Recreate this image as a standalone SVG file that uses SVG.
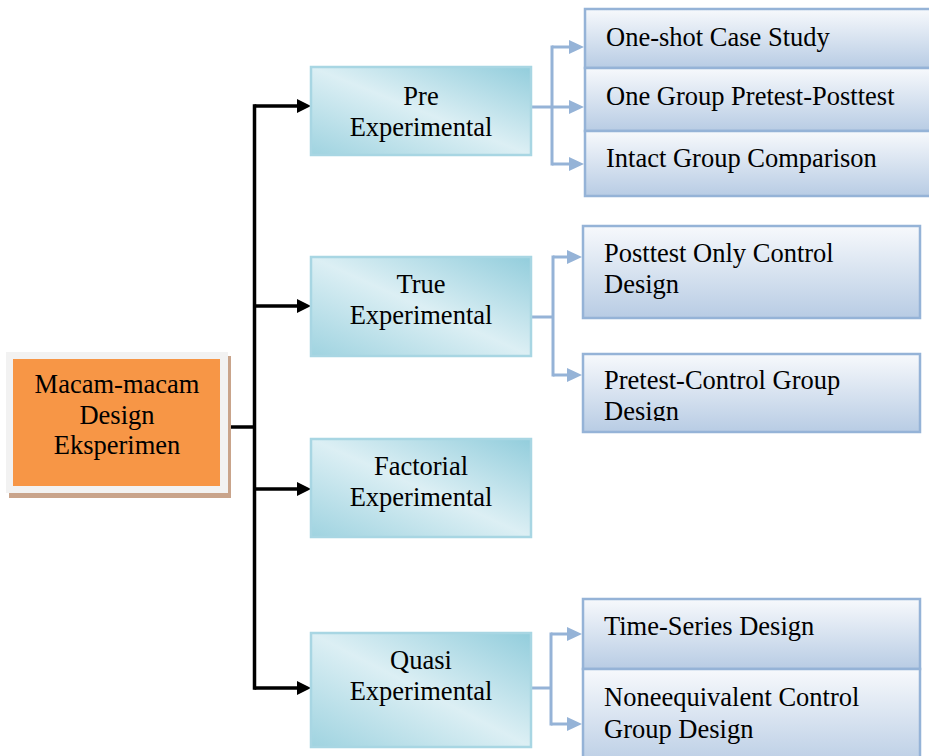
<svg xmlns="http://www.w3.org/2000/svg" width="929" height="756" viewBox="0 0 929 756">
<style>
  text { font-family: "Liberation Serif", "Times New Roman", serif; font-size: 26.5px; fill: #000; }
  .mid text { text-anchor: middle; }
  .midbox { fill: url(#tealGrad); stroke: #A8D6E3; stroke-width: 2.5; }
  .leaf { fill: url(#blueGrad); stroke: #95B3D7; stroke-width: 2.5; }
  .blk { fill: none; stroke: #000; stroke-width: 3.5; }
  .blu { fill: none; stroke: #95B3D7; stroke-width: 3; }
</style>
<defs>
  <linearGradient id="tealGrad" x1="1" y1="0" x2="0" y2="1">
    <stop offset="0" stop-color="#92CDDC"/>
    <stop offset="0.5" stop-color="#DCEFF4"/>
    <stop offset="1" stop-color="#9FD3E0"/>
  </linearGradient>
  <linearGradient id="blueGrad" x1="0" y1="0" x2="0" y2="1">
    <stop offset="0" stop-color="#F7F9FC"/>
    <stop offset="1" stop-color="#B8CCE4"/>
  </linearGradient>
  <marker id="arrBlack" markerUnits="userSpaceOnUse" markerWidth="14" markerHeight="14" refX="0" refY="7" orient="auto">
    <path d="M0,0 L14,7 L0,14 z" fill="#000"/>
  </marker>
  <marker id="arrBlue" markerUnits="userSpaceOnUse" markerWidth="15" markerHeight="14" refX="0" refY="7" orient="auto">
    <path d="M0,0 L15,7 L0,14 z" fill="#95B3D7"/>
  </marker>
  <clipPath id="clipPCG">
    <rect x="583" y="354" width="337" height="67"/>
  </clipPath>
</defs>

<g id="connectors">
  <path class="blk" d="M228,427 H254.5"/>
  <path class="blk" d="M254.5,106 V688" stroke-linecap="square"/>
  <path class="blk" d="M254.5,106 H297" marker-end="url(#arrBlack)"/>
  <path class="blk" d="M254.5,306 H297" marker-end="url(#arrBlack)"/>
  <path class="blk" d="M254.5,489 H297" marker-end="url(#arrBlack)"/>
  <path class="blk" d="M254.5,688 H297" marker-end="url(#arrBlack)"/>

  <path class="blu" d="M531,107 H569" marker-end="url(#arrBlue)"/>
  <path class="blu" d="M552,47 V164" stroke-linecap="square"/>
  <path class="blu" d="M552,47 H569" marker-end="url(#arrBlue)"/>
  <path class="blu" d="M552,164 H569" marker-end="url(#arrBlue)"/>

  <path class="blu" d="M531,317 H553"/>
  <path class="blu" d="M553,257 V375" stroke-linecap="square"/>
  <path class="blu" d="M553,257 H567" marker-end="url(#arrBlue)"/>
  <path class="blu" d="M553,375 H567" marker-end="url(#arrBlue)"/>

  <path class="blu" d="M532,688 H551"/>
  <path class="blu" d="M551,634 V724" stroke-linecap="square"/>
  <path class="blu" d="M551,634 H567" marker-end="url(#arrBlue)"/>
  <path class="blu" d="M551,724 H567" marker-end="url(#arrBlue)"/>
</g>

<g id="root" class="mid">
  <rect x="9" y="356" width="222" height="142" fill="#C9A48B"/>
  <rect x="6" y="352" width="222" height="141" fill="#F2F2F2"/>
  <rect x="13" y="359" width="207" height="127" fill="#F79646"/>
  <text x="117" y="393">Macam-macam</text>
  <text x="117" y="424">Design</text>
  <text x="117" y="454">Eksperimen</text>
</g>

<g id="pre" class="mid">
  <rect class="midbox" x="311" y="67" width="220" height="88"/>
  <text x="421" y="105">Pre</text>
  <text x="421" y="136">Experimental</text>
</g>
<g id="true" class="mid">
  <rect class="midbox" x="311" y="257" width="220" height="99"/>
  <text x="421" y="293">True</text>
  <text x="421" y="324">Experimental</text>
</g>
<g id="factorial" class="mid">
  <rect class="midbox" x="311" y="439" width="220" height="98"/>
  <text x="421" y="475">Factorial</text>
  <text x="421" y="506">Experimental</text>
</g>
<g id="quasi" class="mid">
  <rect class="midbox" x="311" y="633" width="220" height="114"/>
  <text x="421" y="669">Quasi</text>
  <text x="421" y="700">Experimental</text>
</g>

<g id="one-shot">
  <rect class="leaf" x="585" y="9" width="350" height="59"/>
  <text x="606" y="46">One-shot Case Study</text>
</g>
<g id="one-group">
  <rect class="leaf" x="585" y="68" width="350" height="63"/>
  <text x="606" y="105">One Group Pretest-Posttest</text>
</g>
<g id="intact">
  <rect class="leaf" x="585" y="131" width="350" height="65"/>
  <text x="606" y="167">Intact Group Comparison</text>
</g>

<g id="posttest-only">
  <rect class="leaf" x="583" y="226" width="337" height="92"/>
  <text x="604" y="262">Posttest Only Control</text>
  <text x="604" y="293">Design</text>
</g>
<g id="pretest-control">
  <rect class="leaf" x="583" y="354" width="337" height="78"/>
  <g clip-path="url(#clipPCG)">
    <text x="604" y="389">Pretest-Control Group</text>
    <text x="604" y="420">Design</text>
  </g>
</g>

<g id="time-series">
  <rect class="leaf" x="583" y="599" width="337" height="70"/>
  <text x="604" y="635">Time-Series Design</text>
</g>
<g id="nonequivalent">
  <rect class="leaf" x="583" y="669" width="337" height="100"/>
  <text x="604" y="706">Noneequivalent Control</text>
  <text x="604" y="738">Group Design</text>
</g>
</svg>
